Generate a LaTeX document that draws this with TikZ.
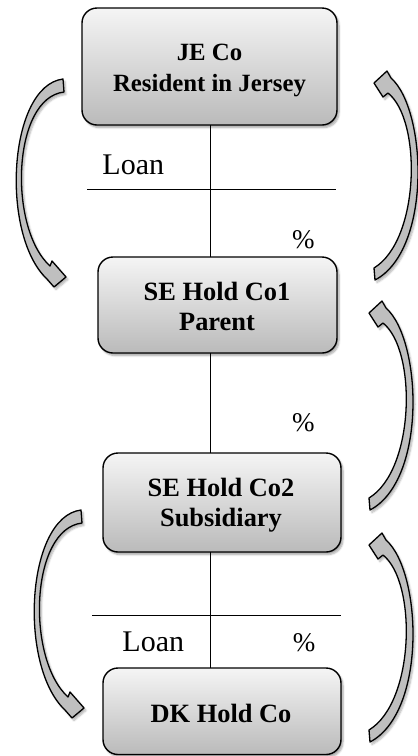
\documentclass[tikz,border=0pt]{standalone}
\usepackage{fontspec}
\setmainfont{Liberation Serif}
\usetikzlibrary{shadows.blur}
\begin{document}
\begin{tikzpicture}[x=1pt,y=-1pt,
  box/.style={draw=black, line width=1.4pt, rounded corners=15pt, inner sep=0pt, outer sep=0pt,
    top color=black!4, bottom color=black!27,
    blur shadow={shadow xshift=2pt, shadow yshift=-2.5pt, shadow blur steps=6, shadow opacity=35}},
  boxtext/.style={font=\bfseries\fontsize{26.4}{30}\selectfont, align=center, inner sep=0pt},
  lbl/.style={font=\fontsize{30}{34}\selectfont, inner sep=0pt, anchor=base},
  pct/.style={font=\fontsize{27}{32}\selectfont, inner sep=0pt, anchor=base},
  conn/.style={draw=black, line width=1.3pt},
  arrowshape/.style={draw=black, line width=1.3pt, fill=black!25, line join=round,
    blur shadow={shadow xshift=2pt, shadow yshift=-2.5pt, shadow blur steps=6, shadow opacity=30}}
]
\useasboundingbox (0,0) rectangle (418,756);

% boxes
\node[box, minimum width=255pt, minimum height=117pt] (b1) at (209.5,66.5) {};
\node[box, minimum width=239pt, minimum height=96pt] (b2) at (217.5,305) {};
\node[box, minimum width=238pt, minimum height=99pt] (b3) at (222,502.5) {};
\node[box, minimum width=238pt, minimum height=86.5pt] (b4) at (222,711.25) {};

\node[boxtext, font=\bfseries\fontsize{24.8}{30.5}\selectfont] (t1) at (209.5,70.7) {JE Co\\Resident in Jersey};
\node[boxtext] (t2) at (217,306) {SE Hold Co1\\Parent};
\node[boxtext] (t3) at (221,505.5) {SE Hold Co2\\Subsidiary};
\node[boxtext] (t4) at (221,713.7) {DK Hold Co};

% connectors
\coordinate (vx) at (210.7,0);
\draw[conn] (b1.south -| vx) -- (b2.north -| vx);
\draw[conn] (b2.south -| vx) -- (b3.north -| vx);
\draw[conn] (b3.south -| vx) -- (b4.north -| vx);

\coordinate (h1l) at (87,189.3);
\coordinate (h1r) at (336,189.3);
\draw[conn] (h1l) -- (h1r);
\coordinate (h2l) at (92,615.7);
\coordinate (h2r) at (341,615.7);
\draw[conn] (h2l) -- (h2r);

% labels
\node[lbl] (loan1) at (133.3,174.3) {Loan};
\node[pct] (pc1) at (303.3,248.3) {\%};
\node[pct] (pc2) at (303.3,431.7) {\%};
\node[lbl] (loan2) at (153.3,651.7) {Loan};
\node[pct] (pc3) at (304,651.7) {\%};

% curved block arrows (left side)
\foreach \dx/\dy in {0/0, 18/431} {
  \begin{scope}[shift={(\dx,\dy)}]
    \path[arrowshape] (63,79) .. controls (8,86) and (0,235) .. (47,279)
      -- (54,287) -- (66,277) -- (52,261) -- (50,266)
      .. controls (8,228) and (12,98) .. (64,92) -- cycle;
  \end{scope}
}
% curved block arrows (right side)
\foreach \dx/\dy in {0/0, -5/230, -5/462} {
  \begin{scope}[shift={(\dx,\dy)}]
    \path[arrowshape] (374,83) -- (387,71) -- (391,78)
      .. controls (427,110) and (432,250) .. (375,280)
      -- (374,268) .. controls (420,240) and (422,120) .. (388,93)
      -- (383,97) -- cycle;
  \end{scope}
}
\end{tikzpicture}
\end{document}
